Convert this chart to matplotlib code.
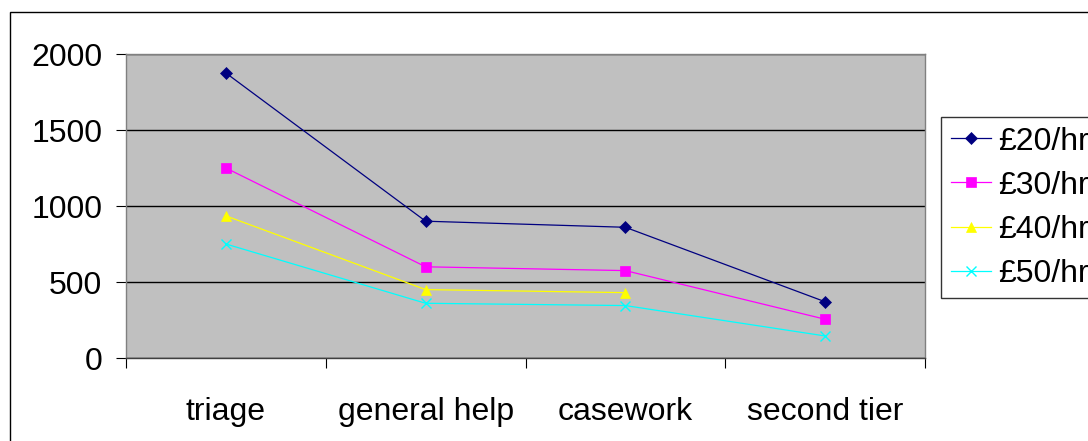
import numpy as np
import matplotlib
matplotlib.use("Agg")
import matplotlib.pyplot as plt
from matplotlib.patches import Rectangle

plt.rcParams['font.family'] = ['Liberation Sans', 'DejaVu Sans']

# data
categories = ["triage", "general help", "casework", "second tier"]
rate_20 = [1875, 900, 860, 370]
rate_30 = [1250, 600, 575, 255]
rate_40 = [935, 450, 430, np.nan]
rate_50 = [750, 360, 345, 145]
series_labels = ["£20/hr", "£30/hr", "£40/hr", "£50/hr"]

fig = plt.figure(figsize=(10.88, 4.41), dpi=100)
W, H = 1088, 441
FS = 23

# chart area border (runs off right / bottom edge like the source)
fig.patches.append(Rectangle((10 / W, -0.1), 1.2, 1 - 12 / H + 0.1,
                             transform=fig.transFigure, fill=False,
                             edgecolor="black", linewidth=1.0))

ax = fig.add_axes([126 / W, 1 - 358 / H, (925 - 126) / W, (358 - 54) / H])
ax.set_facecolor("#C0C0C0")

x = np.arange(len(categories)) + 0.5
styles = [("#000080", "D", 6.5), ("#FF00FF", "s", 6.5),
          ("#FFFF00", "^", 7.5), ("#00FFFF", "x", 7.5)]
for vals, lab, (c, m, ms) in zip([rate_20, rate_30, rate_40, rate_50], series_labels, styles):
    ax.plot(x, vals, color=c, marker=m, markersize=ms, linewidth=0.9,
            markeredgewidth=1.0 if m == "x" else 0.5, label=lab)

ax.set_xlim(0, 4)
ax.set_ylim(0, 2000)
ax.set_yticks([0, 500, 1000, 1500, 2000])
ax.grid(axis="y", color="black", linewidth=1.0)

# boundaries as major ticks, category names on minor ticks
ax.set_xticks(np.arange(0, 5))
ax.set_xticklabels([])
ax.set_xticks(x, minor=True)
ax.set_xticklabels(categories, minor=True)
ax.tick_params(axis="x", which="major", direction="out", length=7, width=0.8, color="black")
ax.tick_params(axis="x", which="minor", length=0, pad=28, labelsize=FS)
ax.tick_params(axis="y", direction="out", length=7, width=0.8, pad=10, labelsize=FS)

for s in ["left", "top", "right"]:
    ax.spines[s].set_color("#808080")
ax.spines["bottom"].set_color("#404040")
for s in ax.spines.values():
    s.set_linewidth(1.0)

# legend box runs past the right edge, as in the source
leg = fig.legend(loc="upper left", bbox_to_anchor=(941 / W, 1 - 117 / H),
                 fontsize=FS, frameon=True, fancybox=False, edgecolor="black",
                 handlelength=1.25, handletextpad=0.25, borderpad=0.3,
                 labelspacing=0.44, borderaxespad=0)
leg.get_frame().set_linewidth(1.0)

fig.savefig("out.png", dpi=100)
